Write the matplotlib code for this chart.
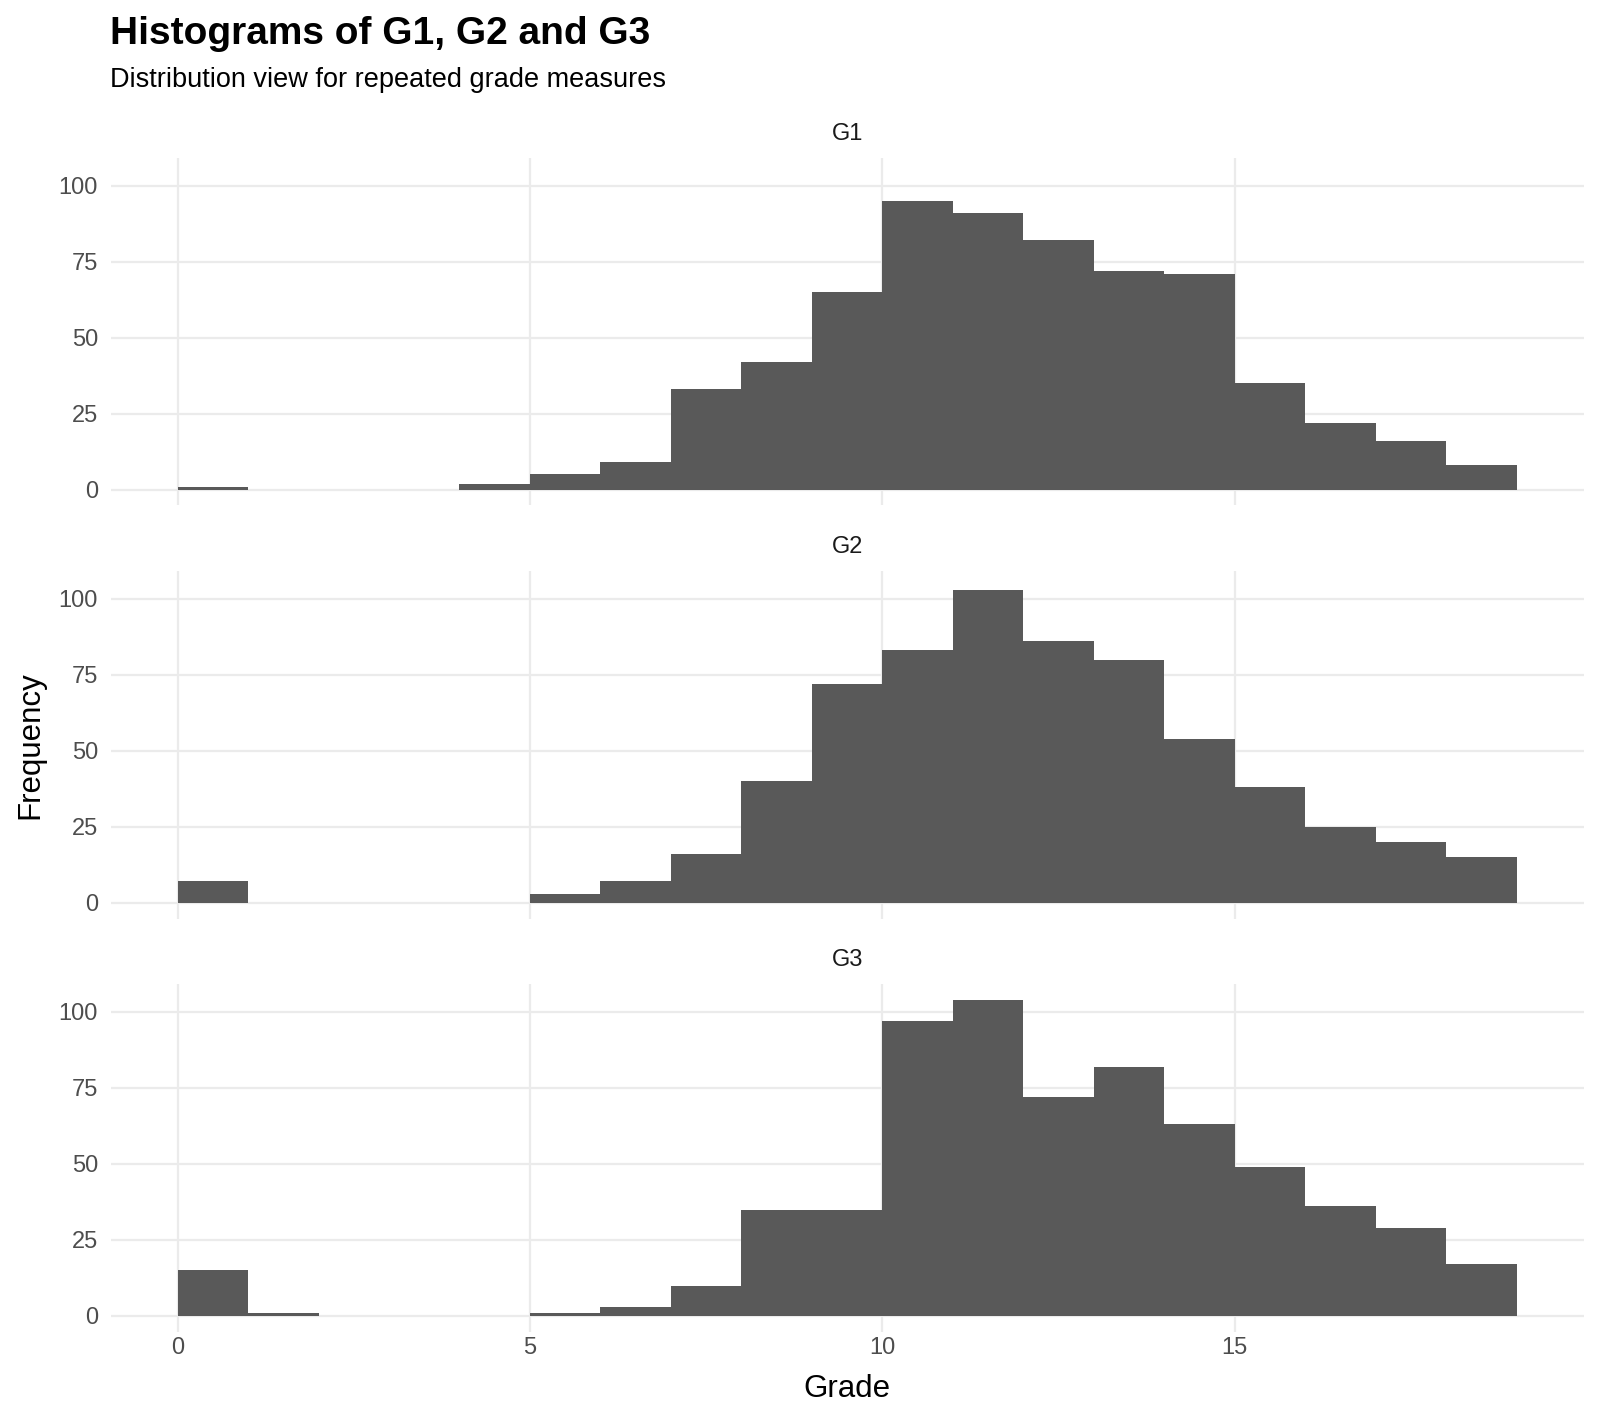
import numpy as np
import matplotlib.pyplot as plt

plt.rcParams['font.family'] = ['Liberation Sans', 'DejaVu Sans']

# 直方图数据（每个区间宽度为1，从0到19）
bin_edges = list(range(0, 20))
panels = ['G1', 'G2', 'G3']
g1_counts = [1, 0, 0, 0, 2, 5, 9, 33, 42, 65, 95, 91, 82, 72, 71, 35, 22, 16, 8]
g2_counts = [7, 0, 0, 0, 0, 3, 7, 16, 40, 72, 83, 103, 86, 80, 54, 38, 25, 20, 15]
g3_counts = [15, 1, 0, 0, 0, 1, 3, 10, 35, 35, 97, 104, 72, 82, 63, 49, 36, 29, 17]
x_ticks = [0, 5, 10, 15]
y_ticks = [0, 25, 50, 75, 100]

all_counts = [g1_counts, g2_counts, g3_counts]

W, H = 1568.0, 1395.0
left = 108.4 / W
right = 1552.0 / W
tops = [154.6, 559.6, 964.6]
bottoms = [495.5, 900.5, 1305.5]

fig = plt.figure(figsize=(16, 14.23), dpi=100)
fig.patch.set_facecolor('white')

ymax = max(max(c) for c in all_counts)
for i, (name, counts) in enumerate(zip(panels, all_counts)):
    b = 1 - bottoms[i] / H
    t = 1 - tops[i] / H
    ax = fig.add_axes([left, b, right - left, t - b])
    edges = np.array(bin_edges)
    ax.bar(edges[:-1], counts, width=1, align='edge', color='#595959',
           edgecolor='none', zorder=2)
    ax.set_xlim(-0.95, 19.95)
    ax.set_ylim(-0.05 * ymax, 1.05 * ymax)
    ax.set_xticks(x_ticks)
    ax.set_yticks(y_ticks)
    ax.grid(True, color='#EBEBEB', linewidth=1.6, zorder=0)
    ax.set_axisbelow(True)
    for s in ax.spines.values():
        s.set_visible(False)
    ax.tick_params(length=0, labelsize=17, labelcolor='#4D4D4D')
    ax.tick_params(axis='y', pad=9)
    ax.tick_params(axis='x', pad=4)
    if i < 2:
        ax.tick_params(labelbottom=False)
    # 分面标签
    ax.text(0.5, 1 + 23 / (bottoms[i] - tops[i]), name, transform=ax.transAxes,
            fontsize=17, color='#1A1A1A', ha='center', va='center')

fig.text(108 / W, 1 - 33 / H, 'Histograms of G1, G2 and G3', fontsize=28,
         fontweight='bold', ha='left', va='center')
fig.text(108 / W, 1 - 78 / H, 'Distribution view for repeated grade measures',
         fontsize=19.5, ha='left', va='center')
fig.text(30 / W, 1 - 730 / H, 'Frequency', fontsize=22.5, rotation=90,
         ha='center', va='center')
fig.text(830 / W, 1 - 1362 / H, 'Grade', fontsize=22.5, ha='center', va='center')

plt.savefig('out.png', dpi=100)
